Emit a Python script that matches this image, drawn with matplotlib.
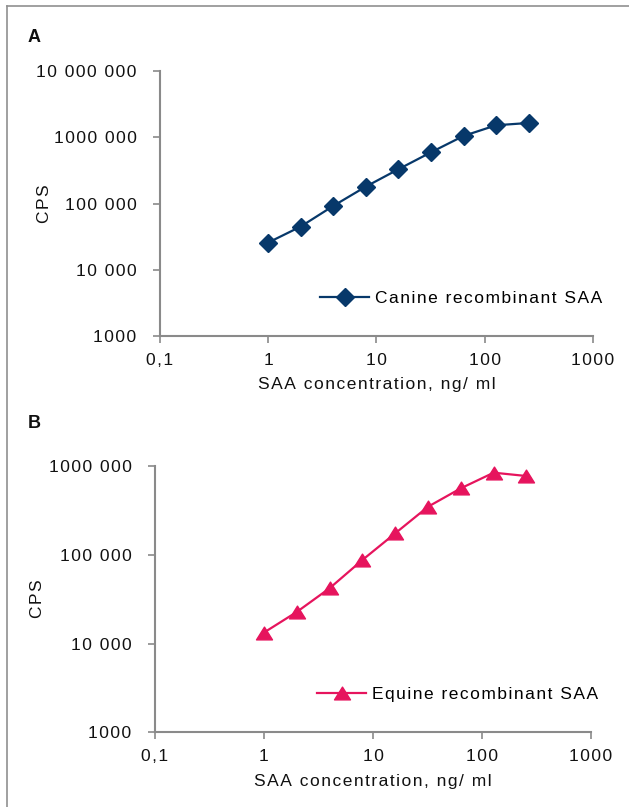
import matplotlib
matplotlib.use("Agg")
import matplotlib.pyplot as plt
from matplotlib.lines import Line2D
from matplotlib.path import Path
from matplotlib.ticker import FixedLocator, FixedFormatter

plt.rcParams['font.family'] = ['Liberation Sans', 'DejaVu Sans']

# Data
conc = [1, 2, 4, 8, 16, 32, 64, 128, 256]
canine_cps = [25700, 44900, 92000, 180000, 329000, 593000, 1047000, 1517000, 1643000]
equine_cps = [13300, 22700, 42000, 87400, 174500, 348000, 561000, 841000, 771000]

x_ticks = [0.1, 1, 10, 100, 1000]
x_labels = ["0,1", "1", "10", "100", "1000"]
yA_ticks = [1e3, 1e4, 1e5, 1e6, 1e7]
yA_labels = ["1000", "10 000", "100 000", "1000 000", "10 000 000"]
yB_ticks = [1e3, 1e4, 1e5, 1e6]
yB_labels = ["1000", "10 000", "100 000", "1000 000"]
x_title = "SAA concentration, ng/ ml"
y_title = "CPS"
nameA = "Canine recombinant SAA"
nameB = "Equine recombinant SAA"

W, H = 629, 807
fig = plt.figure(figsize=(W / 100, H / 100), dpi=100)
fig.patch.set_facecolor('white')

axis_color = '#8a8a8a'
text_color = '#111111'
fs = 12.5

def sp(s):
    return '\u200a'.join(s)

def px(x0, y0, x1, y1):
    return [x0 / W, 1 - y1 / H, (x1 - x0) / W, (y1 - y0) / H]

def style(ax, yticks, ylabels, ylim, ylab_x):
    ax.set_xscale('log')
    ax.set_yscale('log')
    ax.set_xlim(0.1, 1000)
    ax.set_ylim(*ylim)
    for s in ['top', 'right']:
        ax.spines[s].set_visible(False)
    for s in ['left', 'bottom']:
        ax.spines[s].set_color(axis_color)
        ax.spines[s].set_linewidth(1.5)
    ax.xaxis.set_major_locator(FixedLocator(x_ticks))
    ax.xaxis.set_major_formatter(FixedFormatter([sp(t) for t in x_labels]))
    ax.yaxis.set_major_locator(FixedLocator(yticks))
    ax.yaxis.set_major_formatter(FixedFormatter([sp(t) for t in ylabels]))
    ax.xaxis.set_minor_locator(FixedLocator([]))
    ax.yaxis.set_minor_locator(FixedLocator([]))
    ax.tick_params(axis='x', which='major', direction='out', length=5, width=1.2,
                   color=axis_color, labelcolor=text_color, labelsize=fs, pad=7)
    ax.tick_params(axis='y', which='major', direction='out', length=5, width=1.2,
                   color=axis_color, labelcolor=text_color, labelsize=fs, pad=12)
    ax.set_facecolor('white')
    ax.set_xlabel(sp(x_title), fontsize=fs, color=text_color, labelpad=7)
    ax.set_ylabel(sp(y_title), fontsize=fs, color=text_color)
    ax.yaxis.set_label_coords(ylab_x, 0.5)

tri = Path([(0, 0.8), (-1, -0.8), (1, -0.8), (0, 0.8)],
           [Path.MOVETO, Path.LINETO, Path.LINETO, Path.CLOSEPOLY])

# Panel A
axA = fig.add_axes(px(160, 71, 592.7, 336))
style(axA, yA_ticks, yA_labels, (1e3, 1e7), (52 - 160) / 432.7)
axA.plot(conc, canine_cps, color='#07386a', marker='D', markersize=9, linewidth=1.6,
         label=sp(nameA), clip_on=False)
fig.legend(handles=axA.get_lines(), loc='center left',
           bbox_to_anchor=(320 / W, 1 - 298 / H), frameon=False, fontsize=fs,
           handlelength=2.85, handletextpad=0.33, borderpad=0, borderaxespad=0)

# Panel B
axB = fig.add_axes(px(155, 466, 591, 732.3))
style(axB, yB_ticks, yB_labels, (1e3, 1e6), (45 - 155) / 436)
axB.plot(conc, equine_cps, color='#e6145d', marker=tri, markersize=11.5, linewidth=1.6,
         label=sp(nameB), clip_on=False)
fig.legend(handles=axB.get_lines(), loc='center left',
           bbox_to_anchor=(317 / W, 1 - 694 / H), frameon=False, fontsize=fs,
           handlelength=2.85, handletextpad=0.33, borderpad=0, borderaxespad=0)

# Panel letters
fig.text(28 / W, 1 - 37 / H, 'A', fontsize=13, fontweight='bold', color=text_color, va='center')
fig.text(28 / W, 1 - 423 / H, 'B', fontsize=13, fontweight='bold', color=text_color, va='center')

# Frame (top and left)
fig.add_artist(Line2D([7 / W, 1], [1 - 6 / H, 1 - 6 / H], color='#909090', linewidth=1.2,
                      transform=fig.transFigure))
fig.add_artist(Line2D([7 / W, 7 / W], [0, 1 - 6 / H], color='#909090', linewidth=1.2,
                      transform=fig.transFigure))

fig.savefig('out.png', dpi=100, facecolor='white')
